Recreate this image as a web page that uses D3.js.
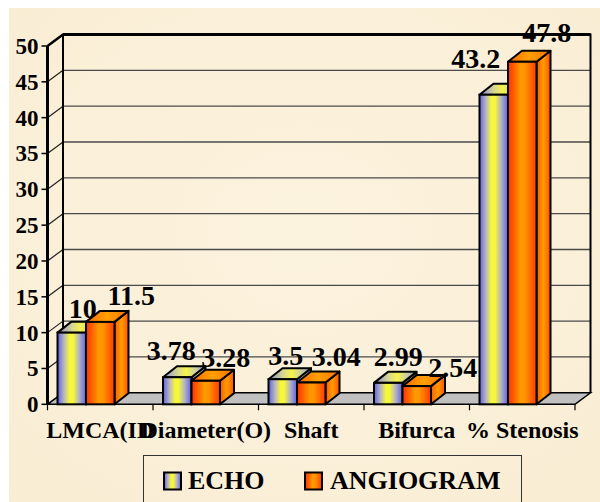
<!DOCTYPE html>
<html>
<head>
<meta charset="utf-8">
<script src="https://cdn.jsdelivr.net/npm/d3@7"></script>
<style>
  html, body { margin: 0; padding: 0; background: #ffffff; }
  svg { display: block; }
</style>
</head>
<body>
<svg id="chart" width="600" height="502"></svg>
<script>
// ---- data ----
const categories = ["LMCA(ID", "Diameter(O)", "Shaft", "Bifurca", "% Stenosis"];
const seriesNames = ["ECHO", "ANGIOGRAM"];
const echoValues = [10, 3.78, 3.5, 2.99, 43.2];
const angiogramValues = [11.5, 3.28, 3.04, 2.54, 47.8];
const yTicks = [0, 5, 10, 15, 20, 25, 30, 35, 40, 45, 50];

// ---- layout ----
const FONT = "'Liberation Serif', 'Times New Roman', Times, 'DejaVu Serif', serif";
const svg = d3.select("#chart");
const W = 600, H = 502;
const plot = { left: 47.5, right: 575, top: 46, bottom: 404.3 };
const wall = { dx: 15.5, dy: -11.5 };   // depth of the back wall
const box = { dx: 14, dy: -11 };        // depth of each bar
const barW = 28.5, groupInset = 10;

const x = d3.scaleBand().domain(categories).range([plot.left, plot.right]).padding(0);
const y = d3.scaleLinear().domain([0, 50]).range([plot.bottom, plot.top]);

// label nudges so the value labels do not collide
const labelNudge = [
  [[4, 2], [24, 0]],
  [[-13, 0], [13, 3]],
  [[-4, 3], [18, 0]],
  [[3, 0], [29, 8]],
  [[-25, -10], [17.5, -3]]
];

function label(sel) {
  return sel.attr("font-family", FONT).attr("font-weight", "bold").attr("fill", "#000");
}

// ---- gradients ----
const defs = svg.append("defs");
function hGrad(id, stops) {
  const g = defs.append("linearGradient").attr("id", id)
    .attr("x1", "0%").attr("x2", "100%").attr("y1", "0%").attr("y2", "0%");
  stops.forEach(s => g.append("stop").attr("offset", s[0]).attr("stop-color", s[1]));
}
hGrad("echoFront", [["0%", "#5f5fe0"], ["22%", "#b4b4c4"], ["42%", "#f6f63a"], ["55%", "#f6f63a"], ["76%", "#b4b4c4"], ["100%", "#5f5fe0"]]);
hGrad("echoTop", [["0%", "#8a8ad8"], ["35%", "#d8d890"], ["55%", "#f4f448"], ["80%", "#c8c8b0"], ["100%", "#9090d0"]]);
hGrad("angioFront", [["0%", "#ff3000"], ["45%", "#ff9a00"], ["60%", "#ff9400"], ["100%", "#ff3a00"]]);
hGrad("angioSide", [["0%", "#ff5a00"], ["50%", "#ff9c00"], ["100%", "#ff5000"]]);
hGrad("angioTop", [["0%", "#ff6a00"], ["50%", "#ffa000"], ["100%", "#ff7000"]]);

const paper = defs.append("radialGradient").attr("id", "paper")
  .attr("cx", "50%").attr("cy", "45%").attr("r", "75%");
paper.append("stop").attr("offset", "0%").attr("stop-color", "#fcf3df");
paper.append("stop").attr("offset", "100%").attr("stop-color", "#f9edd3");

// ---- background ----
svg.append("rect").attr("x", 9).attr("y", 8).attr("width", W - 9).attr("height", H - 8)
  .attr("fill", "url(#paper)");

const g = svg.append("g");

// ---- walls and gridlines ----
const bx0 = plot.left + wall.dx, bx1 = plot.right + wall.dx;
g.selectAll("line.grid").data(yTicks.filter(d => d > 0 && d < 50)).join("line")
  .attr("class", "grid")
  .attr("x1", bx0).attr("x2", bx1)
  .attr("y1", d => y(d) + wall.dy).attr("y2", d => y(d) + wall.dy)
  .attr("stroke", "#4a4a4a").attr("stroke-width", 1.3);
g.selectAll("line.side").data(yTicks.filter(d => d > 0 && d < 50)).join("line")
  .attr("class", "side")
  .attr("x1", plot.left).attr("x2", bx0)
  .attr("y1", d => y(d)).attr("y2", d => y(d) + wall.dy)
  .attr("stroke", "#222").attr("stroke-width", 1.2);

// back wall outline
g.append("path")
  .attr("d", `M${bx0},${y(0) + wall.dy} L${bx0},${y(50) + wall.dy} L${bx1},${y(50) + wall.dy} L${bx1},${y(0) + wall.dy}`)
  .attr("fill", "none").attr("stroke", "#000").attr("stroke-width", 2);
g.append("line").attr("x1", bx0).attr("x2", bx1)
  .attr("y1", y(50) + wall.dy).attr("y2", y(50) + wall.dy)
  .attr("stroke", "#000").attr("stroke-width", 3);
// left wall top edge
g.append("line").attr("x1", plot.left).attr("y1", y(50)).attr("x2", bx0).attr("y2", y(50) + wall.dy)
  .attr("stroke", "#000").attr("stroke-width", 2.5);

// floor
g.append("path")
  .attr("d", `M${plot.left},${y(0)} L${plot.right},${y(0)} L${bx1},${y(0) + wall.dy} L${bx0},${y(0) + wall.dy} Z`)
  .attr("fill", "#c0c0c0").attr("stroke", "#000").attr("stroke-width", 1.5);

// front value axis
g.append("line").attr("x1", plot.left).attr("x2", plot.left)
  .attr("y1", y(0)).attr("y2", y(50))
  .attr("stroke", "#000").attr("stroke-width", 3);
g.selectAll("line.ytick").data(yTicks).join("line")
  .attr("class", "ytick")
  .attr("x1", plot.left - 6).attr("x2", plot.left)
  .attr("y1", d => y(d)).attr("y2", d => y(d))
  .attr("stroke", "#000").attr("stroke-width", 1.5);
g.selectAll("text.ylab").data(yTicks).join("text")
  .attr("class", "ylab")
  .attr("x", plot.left - 9).attr("y", d => y(d) + 8)
  .attr("text-anchor", "end").attr("font-size", 23)
  .call(label)
  .text(d => d);

// category ticks along the floor front edge
const edges = categories.map(c => x(c)).concat([plot.right]);
g.selectAll("line.xtick").data(edges).join("line")
  .attr("class", "xtick")
  .attr("x1", d => d).attr("x2", d => d)
  .attr("y1", y(0)).attr("y2", y(0) + 6)
  .attr("stroke", "#000").attr("stroke-width", 1.2);

// ---- bars ----
const series = [
  { name: seriesNames[0], values: echoValues, front: "url(#echoFront)", top: "url(#echoTop)", side: "url(#echoFront)" },
  { name: seriesNames[1], values: angiogramValues, front: "url(#angioFront)", top: "url(#angioTop)", side: "url(#angioSide)" }
];

categories.forEach((cat, ci) => {
  series.forEach((s, si) => {
    const v = s.values[ci];
    const x0 = x(cat) + groupInset + si * barW;
    const x1 = x0 + barW;
    const yt = y(v), yb = y(0);
    const bar = g.append("g");
    // side face
    bar.append("path")
      .attr("d", `M${x1},${yb} L${x1},${yt} L${x1 + box.dx},${yt + box.dy} L${x1 + box.dx},${yb + box.dy} Z`)
      .attr("fill", s.side).attr("stroke", "#000").attr("stroke-width", 2).attr("stroke-linejoin", "round");
    // top face
    bar.append("path")
      .attr("d", `M${x0},${yt} L${x1},${yt} L${x1 + box.dx},${yt + box.dy} L${x0 + box.dx},${yt + box.dy} Z`)
      .attr("fill", s.top).attr("stroke", "#000").attr("stroke-width", 2).attr("stroke-linejoin", "round");
    // front face
    bar.append("rect")
      .attr("x", x0).attr("y", yt).attr("width", barW).attr("height", yb - yt)
      .attr("fill", s.front).attr("stroke", "#000").attr("stroke-width", 2);
  });
});

// value labels
categories.forEach((cat, ci) => {
  series.forEach((s, si) => {
    const v = s.values[ci];
    const x0 = x(cat) + groupInset + si * barW;
    const cx = x0 + barW / 2 + box.dx / 2;
    const cy = y(v) + box.dy - 6;
    const n = labelNudge[ci][si];
    g.append("text")
      .attr("x", cx + n[0]).attr("y", cy + n[1])
      .attr("text-anchor", "middle").attr("font-size", 28)
      .call(label)
      .text(v);
  });
});

// category labels
g.selectAll("text.xlab").data(categories).join("text")
  .attr("class", "xlab")
  .attr("x", d => x(d) + x.bandwidth() / 2).attr("y", 438)
  .attr("text-anchor", "middle").attr("font-size", 24)
  .call(label)
  .text(d => d);

// ---- legend ----
const legend = svg.append("g");
legend.append("rect").attr("x", 143.5).attr("y", 455.5).attr("width", 378).attr("height", 70)
  .attr("fill", "none").attr("stroke", "#333").attr("stroke-width", 1);
const legendItems = [
  { name: seriesNames[0], fill: "url(#echoFront)", sx: 164, tx: 188 },
  { name: seriesNames[1], fill: "url(#angioFront)", sx: 305, tx: 330 }
];
legendItems.forEach(it => {
  legend.append("rect").attr("x", it.sx).attr("y", 472.5).attr("width", 17).attr("height", 17)
    .attr("fill", it.fill).attr("stroke", "#000").attr("stroke-width", 2);
  legend.append("text").attr("x", it.tx).attr("y", 488.5).attr("font-size", 26)
    .call(label)
    .text(it.name);
});
</script>
</body>
</html>
